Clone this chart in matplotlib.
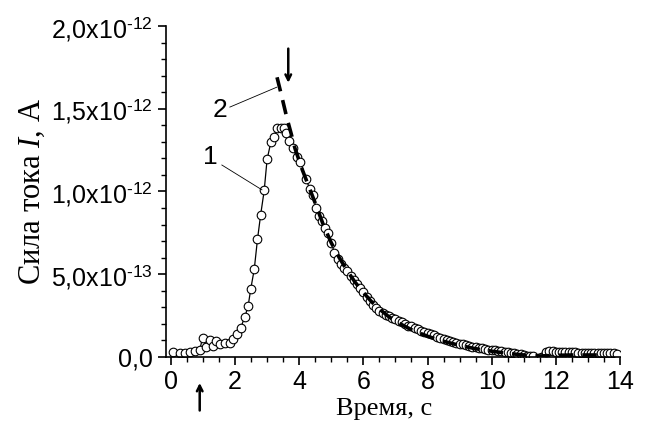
import matplotlib
matplotlib.use("Agg")
import matplotlib.pyplot as plt
from matplotlib.ticker import MultipleLocator, FixedLocator

# curve 1: measured points (time in s, current in units of 1e-12 A)
t1 = [0.07, 0.28, 0.44, 0.59, 0.75, 0.90, 0.99, 1.11, 1.22, 1.32, 1.42, 1.53, 1.68, 1.84,
      1.94, 2.07, 2.18, 2.31, 2.41, 2.49, 2.60, 2.70, 2.80, 2.91, 3.00, 3.12, 3.21, 3.31,
      3.42, 3.52, 3.58, 3.69, 3.81, 3.92, 4.04, 4.21, 4.33, 4.44, 4.52, 4.61,
      4.7, 4.8, 4.9, 5.0, 5.1, 5.2, 5.3, 5.4, 5.5, 5.6, 5.7, 5.8, 5.9, 6.0, 6.1, 6.2,
      6.3, 6.4, 6.5, 6.6, 6.7, 6.8, 6.9, 7.0, 7.1, 7.2, 7.3, 7.4, 7.5, 7.6, 7.7, 7.8,
      7.9, 8.0, 8.1, 8.2, 8.3, 8.4, 8.5, 8.6, 8.7, 8.8, 8.9, 9.0, 9.1, 9.2, 9.3, 9.4,
      9.5, 9.6, 9.7, 9.8, 9.9, 10.0, 10.1, 10.2, 10.3, 10.4, 10.5, 10.6, 10.7, 10.8,
      10.9, 11.0, 11.1, 11.2, 11.3, 11.7, 11.8, 11.9, 12.0, 12.1, 12.2, 12.3, 12.4,
      12.5, 12.6, 12.7, 12.8, 12.9, 13.0, 13.1, 13.2, 13.3, 13.4, 13.5, 13.6, 13.7,
      13.8, 13.9]
i1 = [0.032, 0.022, 0.022, 0.032, 0.038, 0.042, 0.117, 0.063, 0.103, 0.069, 0.099, 0.077,
      0.083, 0.083, 0.107, 0.137, 0.178, 0.244, 0.309, 0.41, 0.53, 0.71, 0.86, 1.006,
      1.194, 1.30, 1.33, 1.386, 1.386, 1.386, 1.356, 1.305, 1.265, 1.21, 1.18, 1.077,
      1.016, 0.98, 0.90, 0.85,
      0.82, 0.78, 0.75, 0.69, 0.63, 0.59, 0.56, 0.54, 0.52, 0.49, 0.465, 0.44, 0.415,
      0.39, 0.365, 0.34, 0.315, 0.295, 0.28, 0.265, 0.255, 0.245, 0.238, 0.23, 0.218,
      0.21, 0.20, 0.19, 0.185, 0.176, 0.168, 0.16, 0.152, 0.145, 0.138, 0.132, 0.12,
      0.113, 0.108, 0.102, 0.097, 0.093, 0.086, 0.08, 0.077, 0.072, 0.065, 0.06, 0.058,
      0.054, 0.052, 0.048, 0.045, 0.043, 0.04, 0.038, 0.035, 0.033, 0.028, 0.025, 0.022,
      0.02, 0.017, 0.012, 0.008, 0.005, 0.006, 0.032, 0.036, 0.034, 0.033, 0.033, 0.032,
      0.032, 0.031, 0.03, 0.028, 0.027, 0.026, 0.025, 0.024, 0.024, 0.023, 0.023, 0.023,
      0.023, 0.022, 0.022, 0.022, 0.021]

# curve 2: dashed decay
t2 = [3.31, 3.45, 3.61, 3.75, 3.87, 4.1, 4.3, 4.5, 4.75, 5.0, 5.25, 5.5, 5.75, 6.0, 6.25,
      6.5, 6.75, 7.0, 7.5, 8.0, 8.5, 9.0, 9.5, 10.0, 10.5, 11.0, 11.5, 12.0, 12.5, 13.0,
      13.5]
i2 = [1.69, 1.58, 1.45, 1.35, 1.26, 1.13, 1.03, 0.93, 0.80, 0.69, 0.60, 0.52, 0.45, 0.39,
      0.335, 0.29, 0.25, 0.215, 0.165, 0.125, 0.095, 0.07, 0.05, 0.035, 0.022, 0.012,
      0.006, 0.01, 0.012, 0.012, 0.012]

yticks = [0, 0.5e-12, 1.0e-12, 1.5e-12, 2.0e-12]
ytick_labels = ["0,0", "5,0x10$^{\\text{-}13}$", "1,0x10$^{\\text{-}12}$",
                "1,5x10$^{\\text{-}12}$", "2,0x10$^{\\text{-}12}$"]
xticks = [0, 2, 4, 6, 8, 10, 12, 14]

plt.rcParams["font.family"] = "Liberation Sans"
plt.rcParams["mathtext.fontset"] = "custom"
plt.rcParams["mathtext.rm"] = "Liberation Sans"
plt.rcParams["mathtext.it"] = "Liberation Serif:italic"

fig = plt.figure(figsize=(6.47, 4.26), dpi=100)
ax = fig.add_axes([0.2566, 0.162, 0.7017, 0.777])

sc = 1e-12
ax.plot(t1, [v * sc for v in i1], color="black", lw=0.9, marker="o", ms=6.2,
        mfc="white", mec="black", mew=0.8, zorder=2)
ax.plot(t2, [v * sc for v in i2], color="black", lw=2.6, dashes=(4, 2.5), zorder=3)

ax.set_xlim(-0.15, 14)
ax.set_ylim(0, 2.0e-12)
ax.xaxis.set_major_locator(FixedLocator(xticks))
ax.xaxis.set_minor_locator(MultipleLocator(0.5))
ax.yaxis.set_major_locator(FixedLocator(yticks))
ax.yaxis.set_minor_locator(MultipleLocator(1e-13))
ax.set_yticklabels(ytick_labels)
ax.set_xticklabels([str(v) for v in xticks])
ax.tick_params(which="major", length=6, width=1.2, labelsize=18, direction="out")
ax.tick_params(which="minor", length=3.5, width=1.0, direction="out")

for s in ["top", "right"]:
    ax.spines[s].set_visible(False)
for s in ["left", "bottom"]:
    ax.spines[s].set_linewidth(1.2)

ax.set_xlabel("Время, с", family="Liberation Serif", fontsize=19, labelpad=3)
ax.xaxis.set_label_coords(0.48, -0.125)
ax.set_ylabel("Сила тока $I$, А", family="Liberation Serif", fontsize=22, labelpad=3)

# labels with leader lines
ax.plot([1.59, 2.84], [1.16e-12, 1.01e-12], color="black", lw=0.6)
ax.text(1.22, 1.21e-12, "1", fontsize=19, ha="center", va="center")
ax.plot([1.84, 3.30], [1.51e-12, 1.63e-12], color="black", lw=0.6)
ax.text(1.53, 1.49e-12, "2", fontsize=19, ha="center", va="center")

# arrows
ax.annotate("", xy=(3.66, 1.64e-12), xytext=(3.66, 1.88e-12),
            arrowprops=dict(arrowstyle="->", lw=1.8, color="black"), annotation_clip=False)
ax.annotate("", xy=(0.90, -0.14e-12), xytext=(0.90, -0.34e-12),
            arrowprops=dict(arrowstyle="->", lw=1.8, color="black"), annotation_clip=False)

fig.savefig("out.png", dpi=100)
